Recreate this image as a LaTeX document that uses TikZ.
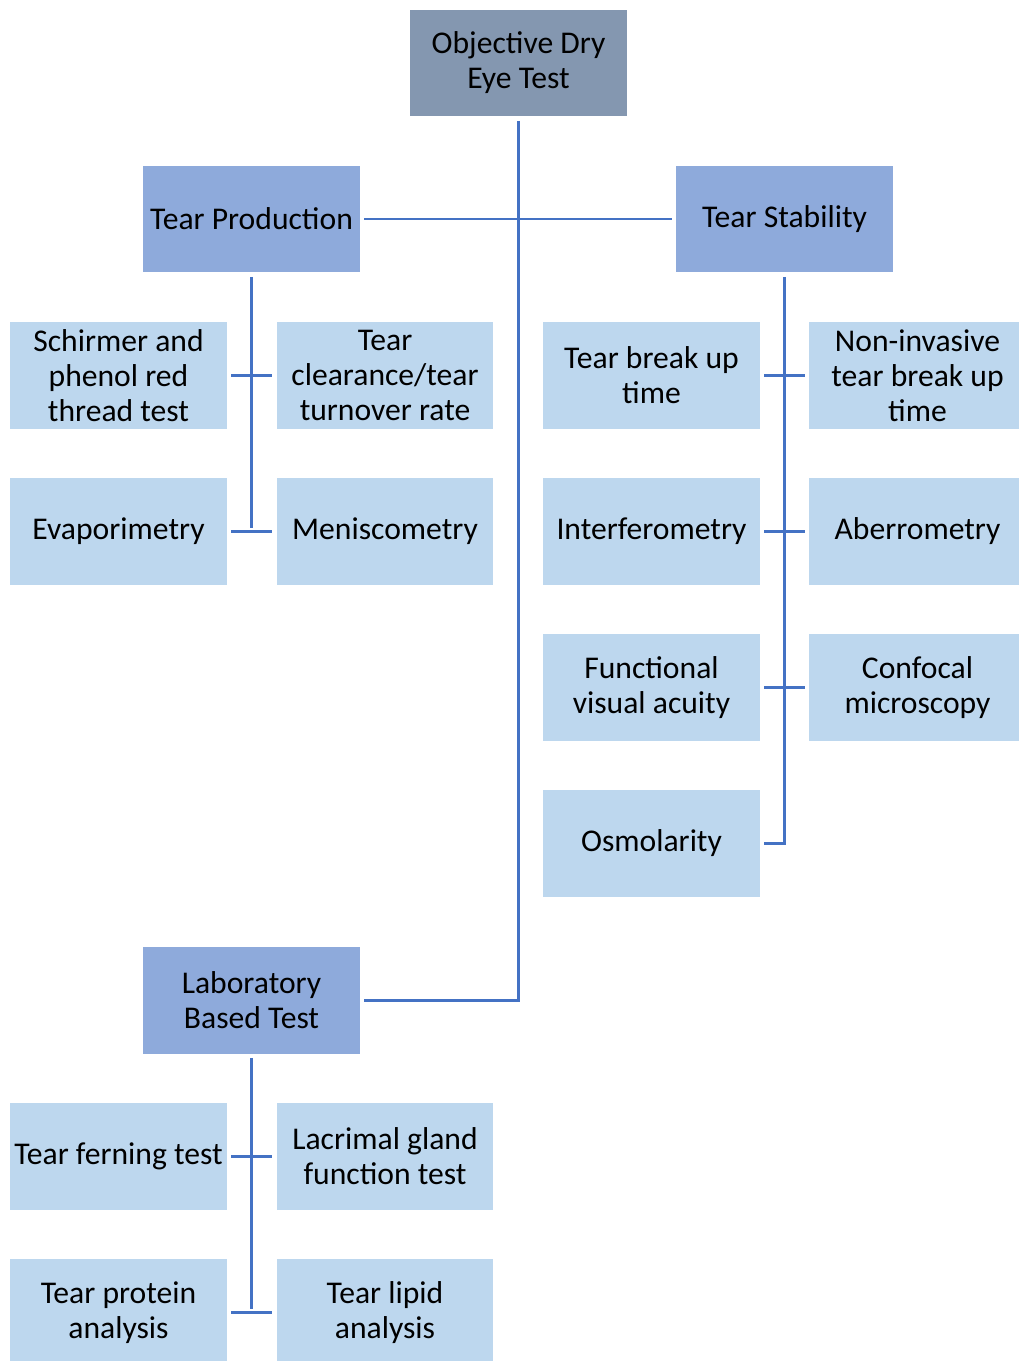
\documentclass[tikz,border=0pt]{standalone}
\usepackage{fontspec}
\setmainfont{Carlito}
\usepackage{tikz}

\definecolor{rootfill}{HTML}{8497B0}
\definecolor{headfill}{HTML}{8EAADB}
\definecolor{leaffill}{HTML}{BDD7EE}
\definecolor{linkcol}{HTML}{4472C4}

\begin{document}
\begin{tikzpicture}[x=0.02cm, y=-0.02cm,
    box/.style={minimum width=4.34cm, minimum height=2.14cm, inner sep=0pt,
        align=center, font=\fontsize{18}{19.9}\selectfont},
    root/.style={box, fill=rootfill},
    head/.style={box, fill=headfill},
    leaf/.style={box, fill=leaffill},
    link/.style={draw=linkcol, line width=1.7pt, shorten <=0.08cm, shorten >=0.08cm}]
            \useasboundingbox (0,0) rectangle (1018,1361);

            \node[root] (R) at (518.5,63) {Objective Dry\\Eye Test};
            \node[head] (P) at (251.5,219) {Tear Production};
            \node[head] (S) at (784.5,219) {Tear Stability};
            \node[head] (L) at (251.5,1000) {Laboratory\\Based Test};

            % tear production
            \node[leaf] (P1) at (118.5,375.5) {Schirmer and\\phenol red\\thread test};
            \node[leaf] (P2) at (385,375.5) {Tear\\clearance/tear\\turnover rate};
            \node[leaf] (P3) at (118.5,531.5) {Evaporimetry};
            \node[leaf] (P4) at (385,531.5) {Meniscometry};

            % tear stability
            \node[leaf] (S1) at (651.5,375.5) {Tear break up\\time};
            \node[leaf] (S2) at (917.5,375.5) {Non-invasive\\tear break up\\time};
            \node[leaf] (S3) at (651.5,531.5) {Interferometry};
            \node[leaf] (S4) at (917.5,531.5) {Aberrometry};
            \node[leaf] (S5) at (651.5,687.5) {Functional\\visual acuity};
            \node[leaf] (S6) at (917.5,687.5) {Confocal\\microscopy};
            \node[leaf] (S7) at (651.5,843.5) {Osmolarity};

            % laboratory
            \node[leaf] (L1) at (118.5,1156.5) {Tear ferning test};
            \node[leaf] (L2) at (385,1156.5) {Lacrimal gland\\function test};
            \node[leaf] (L3) at (118.5,1312.5) {Tear protein\\analysis};
            \node[leaf] (L4) at (385,1312.5) {Tear lipid\\analysis};

            \draw[link] (R.south) -- (R.south |- L.east) -- (L.east);
            \draw[link] (P) -- (S);

            \draw[link] (P.south) -- (P.south |- P3.east);
            \draw[link] (P1) -- (P2);
            \draw[link] (P3) -- (P4);

            \draw[link] (S.south) -- (S.south |- S7.east) -- (S7.east);
            \draw[link] (S1) -- (S2);
            \draw[link] (S3) -- (S4);
            \draw[link] (S5) -- (S6);

            \draw[link] (L.south) -- (L.south |- L3.east);
            \draw[link] (L1) -- (L2);
            \draw[link] (L3) -- (L4);
        \end{tikzpicture}
\end{document}
